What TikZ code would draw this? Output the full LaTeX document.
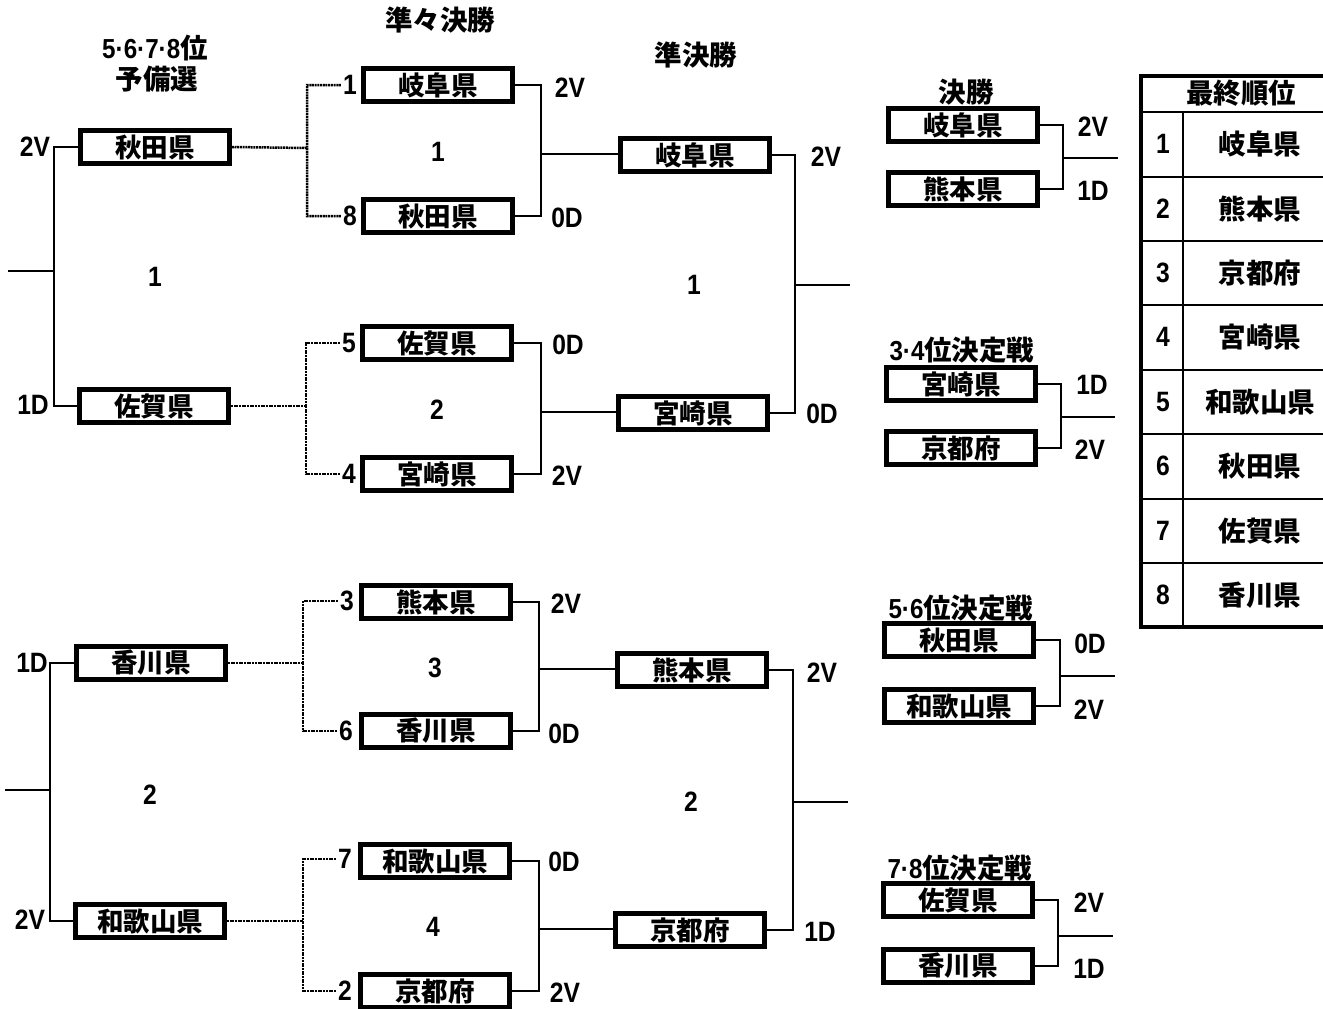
\documentclass[tikz,border=0pt]{standalone}
\usepackage{fontspec}
\setmainfont{Liberation Sans}[FakeStretch=0.88]
\newfontfamily\jp{Noto Sans CJK JP}
\begin{document}
\begin{tikzpicture}[x=1pt,y=-1pt,
  team/.style={draw, line width=4.6pt, minimum width=149pt, minimum height=32.5pt, inner sep=0pt,
    font=\jp\bfseries\fontsize{26.5}{26.5}\selectfont},
  ttl/.style={inner sep=0pt, font=\jp\bfseries\fontsize{27.5}{27.5}\selectfont},
  lab/.style={inner sep=1pt, font=\bfseries\fontsize{28}{28}\selectfont},
  seed/.style={inner sep=2pt, font=\bfseries\fontsize{28}{28}\selectfont},
  br/.style={line width=2.5pt},
  dotl/.style={line width=2.5pt, dash pattern=on 2pt off 0.7pt},
  tline/.style={line width=2.4pt}]
\useasboundingbox (0,0) rectangle (1323,1009);
\newcommand\lt[1]{{\rmfamily #1}}

% titles
\node[ttl] (tPreA) at (155,48) {\lt{5·6·7·8}位};
\node[ttl] (tPreB) at (157,79) {予備選};
\node[ttl] (tQF) at (440,20) {準々決勝};
\node[ttl] (tSF) at (696,55) {準決勝};
\node[ttl] (tF) at (966,92) {決勝};
\node[ttl] (t34) at (962,350) {\lt{3·4}位決定戦};
\node[ttl] (t56) at (961,608) {\lt{5·6}位決定戦};
\node[ttl] (t78) at (960,868) {\lt{7·8}位決定戦};

% preliminary boxes
\node[team] (r1) at (155,147) {秋田県};
\node[team] (r2) at (154,406) {佐賀県};
\node[team] (r3) at (151,663) {香川県};
\node[team] (r4) at (150,921) {和歌山県};
% quarterfinal boxes
\node[team] (q1) at (438,85) {岐阜県};
\node[team] (q2) at (438,216) {秋田県};
\node[team] (q3) at (437,343) {佐賀県};
\node[team] (q4) at (437,474) {宮崎県};
\node[team] (q5) at (436,602) {熊本県};
\node[team] (q6) at (436,731) {香川県};
\node[team] (q7) at (435,861) {和歌山県};
\node[team] (q8) at (435,991) {京都府};
% semifinal boxes
\node[team] (s1) at (695,155) {岐阜県};
\node[team] (s2) at (693,413) {宮崎県};
\node[team] (s3) at (692,670) {熊本県};
\node[team] (s4) at (690,930) {京都府};
% right column
\node[team] (fa) at (963,125) {岐阜県};
\node[team] (fb) at (963,189) {熊本県};
\node[team] (ba) at (961,384) {宮崎県};
\node[team] (bb) at (961,448) {京都府};
\node[team] (ca) at (959,640) {秋田県};
\node[team] (cb) at (959,706) {和歌山県};
\node[team] (da) at (958,900) {佐賀県};
\node[team] (db) at (958,966) {香川県};

% seeds
\node[seed] (n1) at (350,85) {1};
\node[seed] (n8) at (350,216) {8};
\node[seed] (n5) at (349,343) {5};
\node[seed] (n4) at (349,474) {4};
\node[seed] (n3) at (347,601) {3};
\node[seed] (n6) at (346,731) {6};
\node[seed] (n7) at (345,859) {7};
\node[seed] (n2) at (345,991) {2};

% coordinates
\coordinate (pj1) at (54,271); \coordinate (pe1) at (8,271);
\coordinate (pj2) at (50,790); \coordinate (pe2) at (5,790);
\coordinate (dj1) at (307,148);
\coordinate (dj2) at (306,406);
\coordinate (dj3) at (303,663);
\coordinate (dj4) at (303,921);
\coordinate (qj1) at (541,154);
\coordinate (qj2) at (541,412);
\coordinate (qj3) at (539,669);
\coordinate (qj4) at (539,929);
\coordinate (sj1) at (795,285); \coordinate (se1) at (850,285);
\coordinate (sj2) at (793,802); \coordinate (se2) at (848,802);
\coordinate (fj) at (1063,158); \coordinate (fe) at (1118,158);
\coordinate (bj) at (1061,417); \coordinate (be) at (1115,417);
\coordinate (cj) at (1060,676); \coordinate (ce) at (1115,676);
\coordinate (xj) at (1058,936); \coordinate (xe) at (1113,936);

% preliminary brackets
\draw[br] (r1.west) -| (pj1) (r2.west) -| (pj1) (pj1) -- (pe1);
\draw[br] (r3.west) -| (pj2) (r4.west) -| (pj2) (pj2) -- (pe2);
% dotted links
\draw[dotl] (r1.east) -- (dj1) (n1.west) -| (dj1) (n8.west) -| (dj1);
\draw[dotl] (r2.east) -- (dj2) (n5.west) -| (dj2) (n4.west) -| (dj2);
\draw[dotl] (r3.east) -- (dj3) (n3.west) -| (dj3) (n6.west) -| (dj3);
\draw[dotl] (r4.east) -- (dj4) (n7.west) -| (dj4) (n2.west) -| (dj4);
% quarterfinal brackets
\draw[br] (q1.east) -| (qj1) (q2.east) -| (qj1) (qj1) -- (qj1 -| s1.west);
\draw[br] (q3.east) -| (qj2) (q4.east) -| (qj2) (qj2) -- (qj2 -| s2.west);
\draw[br] (q5.east) -| (qj3) (q6.east) -| (qj3) (qj3) -- (qj3 -| s3.west);
\draw[br] (q7.east) -| (qj4) (q8.east) -| (qj4) (qj4) -- (qj4 -| s4.west);
% semifinal brackets
\draw[br] (s1.east) -| (sj1) (s2.east) -| (sj1) (sj1) -- (se1);
\draw[br] (s3.east) -| (sj2) (s4.east) -| (sj2) (sj2) -- (se2);
% right brackets
\draw[br] (fa.east) -| (fj) (fb.east) -| (fj) (fj) -- (fe);
\draw[br] (ba.east) -| (bj) (bb.east) -| (bj) (bj) -- (be);
\draw[br] (ca.east) -| (cj) (cb.east) -| (cj) (cj) -- (ce);
\draw[br] (da.east) -| (xj) (db.east) -| (xj) (xj) -- (xe);

% result labels
\node[lab] (l1) at (35,147) {2V};
\node[lab] (l2) at (33,405) {1D};
\node[lab] (l3) at (32,663) {1D};
\node[lab] (l4) at (30,920) {2V};
\node[lab] (m1) at (155,277) {1};
\node[lab] (m2) at (150,795) {2};
\node[lab] (l5) at (570,88) {2V};
\node[lab] (l6) at (567,218) {0D};
\node[lab] (l7) at (568,345) {0D};
\node[lab] (l8) at (567,476) {2V};
\node[lab] (l9) at (566,604) {2V};
\node[lab] (l10) at (564,734) {0D};
\node[lab] (l11) at (564,862) {0D};
\node[lab] (l12) at (565,993) {2V};
\node[lab] (m3) at (438,152) {1};
\node[lab] (m4) at (437,410) {2};
\node[lab] (m5) at (435,668) {3};
\node[lab] (m6) at (433,927) {4};
\node[lab] (l13) at (826,157) {2V};
\node[lab] (l14) at (822,414) {0D};
\node[lab] (l15) at (822,673) {2V};
\node[lab] (l16) at (820,932) {1D};
\node[lab] (m7) at (694,285) {1};
\node[lab] (m8) at (691,802) {2};
\node[lab] (l17) at (1093,127) {2V};
\node[lab] (l18) at (1093,191) {1D};
\node[lab] (l19) at (1092,385) {1D};
\node[lab] (l20) at (1090,450) {2V};
\node[lab] (l21) at (1090,644) {0D};
\node[lab] (l22) at (1089,710) {2V};
\node[lab] (l23) at (1089,903) {2V};
\node[lab] (l24) at (1089,969) {1D};

% final ranking table
\draw[line width=4.5pt] (1141,76) rectangle (1345,627);
\draw[tline] (1141,112) -- (1345,112);
\foreach \yy in {177,241,305,370,434,499,563}
  \draw[tline] (1141,\yy) -- (1345,\yy);
\draw[tline] (1183,112) -- (1183,627);
\node[ttl] (th) at (1241,93) {最終順位};
\foreach \k/\nm/\yy in {1/岐阜県/144,2/熊本県/209,3/京都府/273,4/宮崎県/337,5/和歌山県/402,6/秋田県/466,7/佐賀県/531,8/香川県/595}{
  \node[lab] (rk\k) at (1163,\yy) {\k};
  \node[ttl] (rn\k) at (1260,\yy) {\nm};
}
\end{tikzpicture}
\end{document}
